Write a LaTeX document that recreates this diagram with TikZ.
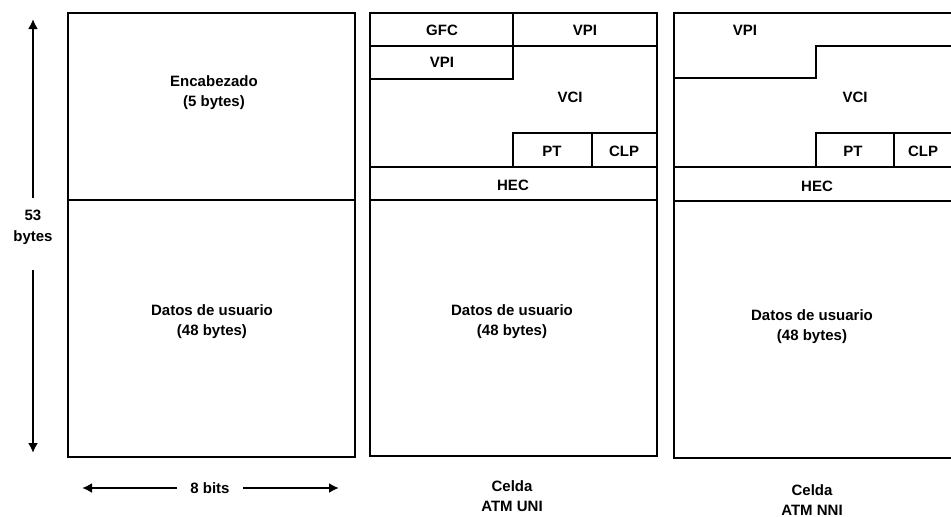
\documentclass[tikz,border=0pt]{standalone}
\usepackage{fontspec}
\setmainfont{Liberation Sans}
\usetikzlibrary{arrows.meta,positioning,calc}

\begin{document}
\begin{tikzpicture}[x=1pt,y=-1pt,
    celda/.style={line width=2.6pt},
    lbl/.style={font=\bfseries\fontsize{15}{17}\selectfont,inner sep=1pt},
    lbln/.style={lbl,align=center,font=\bfseries\fontsize{15}{20}\selectfont},
    flecha/.style={line width=2.4pt,-{Latex[length=10pt,width=10pt]}}
  ]
  \useasboundingbox (0,0) rectangle (951,517);

  % celda general
  \draw[celda] (68,13) rectangle (355,457);
  \draw[celda] (68,200) -- (355,200);
  \node[lbln] (enc) at (214,93) {Encabezado\\(5 bytes)};
  \node[lbln] (dat1) at (212,322) {Datos de usuario\\(48 bytes)};

  % 53 bytes
  \node[lbl] (n53) at (33,215) {53};
  \node[lbl] (nby) at (33,238) {bytes};
  \coordinate (arr) at (33,19);
  \coordinate (aba) at (33,453);
  \draw[flecha] ($(n53.north)+(0,-10)$) -- (arr);
  \draw[flecha] ($(nby.south)+(0,24)$) -- (aba);

  % 8 bits
  \node[lbl] (bits) at (210,488) {8 bits};
  \coordinate (izq) at (82,488);
  \coordinate (der) at (339,488);
  \draw[flecha] ($(bits.west)+(-12,0)$) -- (izq);
  \draw[flecha] ($(bits.east)+(12,0)$) -- (der);

  % celda UNI
  \draw[celda] (370,13) rectangle (657,456);
  \draw[celda] (370,46) -- (657,46);
  \draw[celda] (513,13) -- (513,79) -- (370,79);
  \draw[celda] (513,167) -- (513,133) -- (657,133);
  \draw[celda] (592,133) -- (592,167);
  \draw[celda] (370,167) -- (657,167);
  \draw[celda] (370,200) -- (657,200);
  \node[lbl] (gfc) at (442,30) {GFC};
  \node[lbl] (vpiu) at (585,30) {VPI};
  \node[lbl] (vpiu2) at (442,62) {VPI};
  \node[lbl] (vciu) at (570,97) {VCI};
  \node[lbl] (ptu) at (552,151) {PT};
  \node[lbl] (clpu) at (624,151) {CLP};
  \node[lbl] (hecu) at (513,185) {HEC};
  \node[lbln] (dat2) at (512,322) {Datos de usuario\\(48 bytes)};
  \node[lbln] (uni) at (512,496) {Celda\\ATM UNI};

  % celda NNI
  \draw[celda] (674,13) rectangle (960,458);
  \draw[celda] (674,78) -- (816,78) -- (816,46) -- (960,46);
  \draw[celda] (816,167) -- (816,133) -- (960,133);
  \draw[celda] (894,133) -- (894,167);
  \draw[celda] (674,167) -- (960,167);
  \draw[celda] (674,201) -- (960,201);
  \node[lbl] (vpin) at (745,30) {VPI};
  \node[lbl] (vcin) at (855,97) {VCI};
  \node[lbl] (ptn) at (853,151) {PT};
  \node[lbl] (clpn) at (923,151) {CLP};
  \node[lbl] (hecn) at (817,186) {HEC};
  \node[lbln] (dat3) at (812,327) {Datos de usuario\\(48 bytes)};
  \node[lbln] (nni) at (812,500) {Celda\\ATM NNI};
\end{tikzpicture}
\end{document}
